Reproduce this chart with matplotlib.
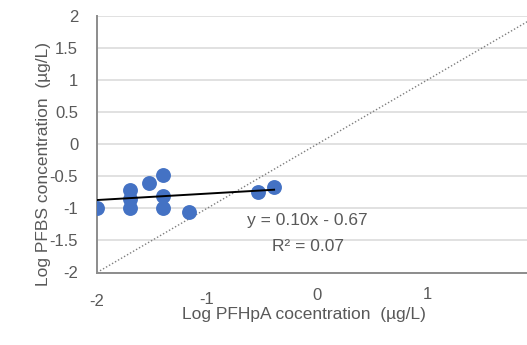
import matplotlib

matplotlib.use('Agg')
import matplotlib.pyplot as plt
from matplotlib.transforms import ScaledTranslation

# log PFHpA (x) vs log PFBS (y)
pfhpa = [-2.0, -1.70, -1.70, -1.70, -1.53, -1.40, -1.40, -1.40, -1.16, -0.54, -0.39]
pfbs = [-1.0, -0.72, -0.86, -0.99, -0.60, -0.48, -0.80, -0.99, -1.05, -0.745, -0.667]

slope = 0.10
intercept = -0.67
r2 = 0.07

x_ticks = [-2, -1, 0, 1]
y_ticks = [-2, -1.5, -1, -0.5, 0, 0.5, 1, 1.5, 2]
x_label = 'Log PFHpA cocentration  (µg/L)'
y_label = 'Log PFBS concentration  (µg/L)'

TXT = '#595959'
plt.rcParams['font.family'] = ['Liberation Sans', 'DejaVu Sans']

fig = plt.figure(figsize=(5.27, 3.45), dpi=100)
ax = fig.add_axes((97 / 527, 1 - 272.5 / 345, 430 / 527, 256.5 / 345))

ax.set_xlim(-2, -2 + 430 / 110)
ax.set_ylim(-2, 2)

ax.set_yticks(y_ticks)
ax.set_yticklabels([f'{v:g}' for v in y_ticks])
ax.set_xticks(x_ticks)
ax.set_xticklabels([f'{v:g}' for v in x_ticks])
ax.tick_params(axis='both', length=0, labelsize=12, labelcolor=TXT)
ax.tick_params(axis='y', pad=13.5)
ax.tick_params(axis='x', pad=15.5)

# the x labels step up a little from left to right in the original
for lab, dy in zip(ax.get_xticklabels(), [0, 2.5, 6.5, 7.5]):
    lab.set_transform(lab.get_transform() + ScaledTranslation(0, dy / 100, fig.dpi_scale_trans))

ax.grid(axis='y', color='#d9d9d9', lw=1.1)
ax.grid(axis='x', visible=False)
ax.set_axisbelow(True)
for side in ['top', 'right']:
    ax.spines[side].set_visible(False)
for side in ['left', 'bottom']:
    ax.spines[side].set_color('#8c8c8c')
    ax.spines[side].set_linewidth(1.4)

# 1:1 line
ax.plot([-2, 2], [-2, 2], color='#7f7f7f', lw=1.0, ls=(0, (1, 1.5)), zorder=2)

ax.scatter(pfhpa, pfbs, s=115, color='#4472c4', zorder=3, linewidths=0)

x0, x1 = min(pfhpa), max(pfhpa)
ax.plot([x0, x1], [slope * x0 + intercept, slope * x1 + intercept], color='black', lw=1.4, zorder=4)

ax.text(-0.086, -1.262, f'y = {slope:.2f}x - {abs(intercept):.2f}', ha='center', va='baseline',
        fontsize=12.5, color=TXT)
ax.text(-0.086, -1.662, f'R² = {r2:.2f}', ha='center', va='baseline', fontsize=12.5, color=TXT)

ax.text((304 - 97) / 430, (272.5 - 319) / 256.5, x_label, transform=ax.transAxes,
        ha='center', va='baseline', fontsize=12.5, color=TXT)
ax.text((44 - 97) / 430, (272.5 - 164) / 256.5, y_label, transform=ax.transAxes,
        ha='center', va='center', rotation=90, fontsize=12.5, color=TXT)

fig.savefig('out.png', dpi=100)
